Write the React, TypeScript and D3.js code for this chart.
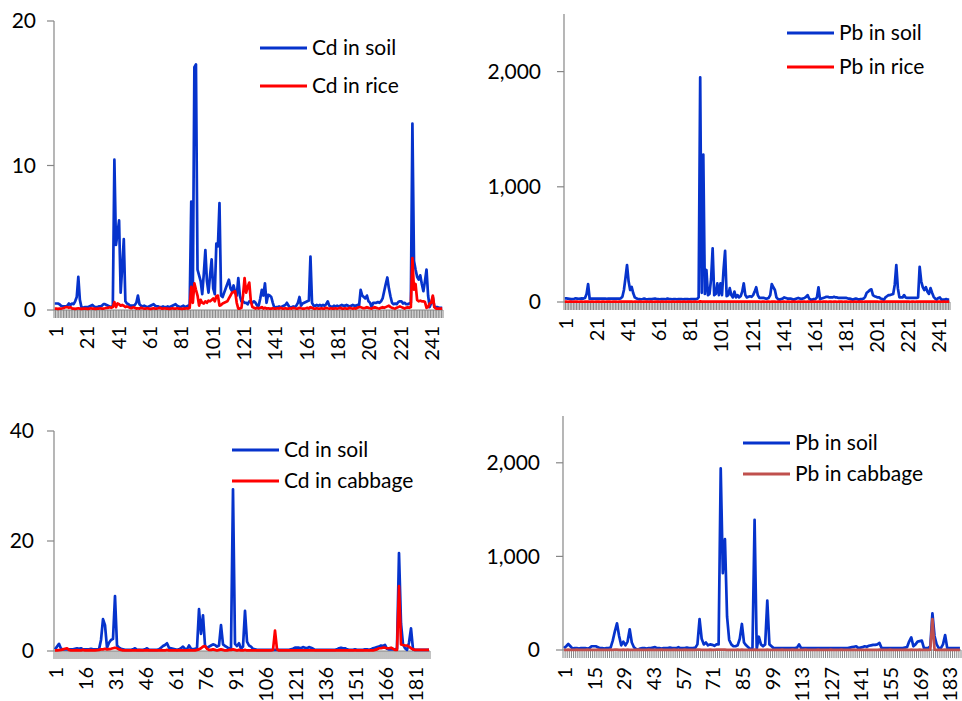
import React from "react";
import * as d3 from "d3";

const FONT = "Lato, 'Open Sans', sans-serif";
const BLUE = "#0633cc";
const RED = "#ff0000";
const DARK_RED = "#c0504d";
const AXIS = "#868686";

// Cd, rice fields (248 samples)
const cdSoilRice = [
  0.45,0.45,0.45,0.4,0.3,0.25,0.25,0.25,0.3,0.45,
  0.35,0.45,0.4,0.6,0.9,2.3,0.7,0.2,0.15,0.2,
  0.2,0.2,0.25,0.3,0.35,0.25,0.2,0.2,0.25,0.25,
  0.3,0.4,0.4,0.35,0.3,0.25,0.2,0.3,10.4,4.5,
  5.3,6.2,1.2,3.0,4.9,0.6,0.45,0.4,0.3,0.3,
  0.3,0.35,0.5,1.0,0.4,0.3,0.25,0.3,0.25,0.2,
  0.25,0.3,0.35,0.4,0.3,0.25,0.25,0.2,0.2,0.25,
  0.2,0.2,0.25,0.2,0.25,0.3,0.35,0.4,0.3,0.25,
  0.2,0.25,0.3,0.2,0.25,0.3,0.35,7.5,1.0,16.8,
  17.0,2.8,2.4,2.0,1.1,2.5,4.15,2.0,1.2,2.4,
  3.5,1.5,1.1,4.6,4.4,7.4,1.0,0.9,1.2,1.5,
  1.8,2.1,1.5,1.3,1.7,1.2,1.0,2.2,1.0,0.6,
  0.6,0.5,0.5,0.4,0.6,0.6,0.5,0.6,0.5,0.3,
  0.3,0.8,1.4,1.0,1.85,0.5,1.05,1.0,0.9,0.5,
  0.15,0.2,0.2,0.25,0.2,0.25,0.3,0.35,0.5,0.3,
  0.15,0.2,0.25,0.2,0.3,0.5,0.9,0.3,0.45,0.5,
  0.55,0.6,0.65,3.7,0.5,0.3,0.3,0.35,0.3,0.35,
  0.3,0.35,0.3,0.4,0.6,0.3,0.25,0.2,0.3,0.25,
  0.3,0.25,0.3,0.35,0.3,0.3,0.35,0.3,0.25,0.3,
  0.35,0.3,0.3,0.35,0.3,1.4,1.0,0.9,0.8,1.0,
  0.6,0.5,0.2,0.5,0.5,0.5,0.55,0.5,0.6,0.8,
  1.3,1.8,2.25,1.5,0.95,0.5,0.4,0.45,0.4,0.55,
  0.6,0.6,0.45,0.5,0.4,0.4,0.45,0.5,12.9,3.4,
  2.8,2.3,2.1,2.4,1.8,1.3,2.0,2.8,1.0,0.2,
  0.5,0.9,0.2,0.2,0.2,0.15,0.15,0.15,
];
const cdRice = [
  0.1,0.1,0.08,0.1,0.1,0.12,0.15,0.2,0.2,0.15,
  0.2,0.1,0.1,0.08,0.1,0.12,0.1,0.08,0.1,0.1,
  0.1,0.08,0.1,0.12,0.1,0.1,0.08,0.1,0.1,0.12,
  0.1,0.1,0.12,0.15,0.15,0.2,0.15,0.2,0.55,0.2,
  0.45,0.4,0.3,0.35,0.3,0.2,0.25,0.2,0.15,0.12,
  0.2,0.15,0.1,0.12,0.1,0.15,0.12,0.1,0.1,0.12,
  0.1,0.08,0.1,0.12,0.1,0.1,0.12,0.15,0.1,0.1,
  0.12,0.1,0.1,0.08,0.1,0.12,0.1,0.1,0.12,0.1,
  0.1,0.08,0.1,0.1,0.12,0.1,0.15,1.6,0.5,1.85,
  1.4,1.0,0.3,0.7,0.5,0.45,0.6,0.5,0.65,0.6,
  0.7,0.8,0.6,0.95,1.0,0.3,0.35,0.45,0.5,0.55,
  0.6,0.8,1.0,1.2,1.25,1.3,0.5,0.1,0.1,0.15,
  1.0,2.2,1.2,1.6,1.9,0.6,0.2,0.15,0.1,0.15,
  0.1,0.15,0.2,0.1,0.15,0.1,0.12,0.1,0.1,0.12,
  0.1,0.1,0.12,0.1,0.15,0.1,0.1,0.12,0.1,0.1,
  0.12,0.1,0.15,0.12,0.1,0.1,0.15,0.12,0.1,0.1,
  0.12,0.15,0.1,0.2,0.15,0.1,0.1,0.12,0.1,0.1,
  0.12,0.1,0.1,0.15,0.12,0.1,0.12,0.1,0.1,0.12,
  0.1,0.12,0.15,0.1,0.1,0.12,0.1,0.1,0.15,0.12,
  0.1,0.12,0.1,0.15,0.2,0.2,0.15,0.12,0.15,0.2,
  0.15,0.12,0.1,0.15,0.2,0.15,0.12,0.1,0.15,0.2,
  0.15,0.2,0.25,0.3,0.2,0.15,0.12,0.1,0.15,0.2,
  0.25,0.2,0.15,0.1,0.15,0.2,0.15,0.2,3.6,1.4,
  1.8,0.7,0.6,0.65,0.6,0.6,0.55,0.15,0.2,0.45,
  0.5,1.0,0.2,0.1,0.1,0.1,0.1,0.1,
];

// Pb, rice fields (248 samples)
const pbSoilRice = [
  32,32,30,28,25,25,28,32,30,28,
  30,32,30,35,70,156,26,30,30,30,
  30,30,30,30,30,30,30,28,30,30,
  30,30,30,30,30,30,32,45,104,210,
  321,180,104,130,75,40,32,25,25,24,
  26,30,26,24,25,26,25,28,30,26,
  25,24,25,26,25,24,30,26,25,24,
  25,25,24,25,25,25,24,25,25,25,
  24,25,25,25,25,26,40,1950,80,1280,
  70,278,60,70,200,466,60,70,162,60,
  162,60,278,445,50,60,120,60,40,90,
  40,60,40,50,90,162,60,40,45,50,
  45,60,90,128,60,35,35,35,35,30,
  30,35,60,156,128,104,40,25,20,25,
  30,40,35,30,30,30,25,20,25,30,
  35,30,25,30,35,45,60,30,20,20,
  25,25,40,128,25,30,35,40,45,45,
  40,40,40,45,40,40,35,35,35,35,
  35,35,30,30,25,20,25,30,25,20,
  25,25,30,45,80,90,104,110,60,50,
  45,40,40,30,25,20,40,50,60,60,
  65,70,150,321,120,40,40,40,60,40,
  35,35,35,35,35,35,35,40,306,180,
  130,104,128,90,70,120,80,45,30,20,
  35,40,20,20,20,25,20,20,
];
const pbRice = [
  3,3,2,3,3,2,3,3,3,2,
  3,3,2,3,3,3,2,3,3,2,
  3,3,3,2,3,3,2,3,3,3,
  2,3,3,3,2,3,3,3,4,3,
  4,3,3,3,2,3,3,2,3,3,
  2,3,3,3,2,3,3,2,3,3,
  3,2,3,3,2,3,3,3,2,3,
  3,2,3,3,3,2,3,3,2,3,
  3,3,2,3,3,2,3,5,3,4,
  3,4,3,3,3,4,3,3,3,3,
  4,3,3,4,3,3,3,3,3,3,
  3,3,3,3,3,4,3,3,3,3,
  3,3,3,3,3,3,2,3,3,2,
  3,3,2,3,3,3,2,3,3,2,
  3,3,2,3,3,2,3,3,3,2,
  3,3,2,3,3,2,3,3,2,3,
  3,3,2,3,3,2,3,3,3,2,
  3,3,2,3,3,2,3,3,3,2,
  3,3,2,3,3,2,3,3,2,3,
  3,3,2,3,3,3,3,3,3,3,
  3,3,2,3,3,2,3,3,3,3,
  3,3,3,4,3,3,3,3,3,3,
  3,3,2,3,3,2,3,3,4,3,
  3,3,3,3,3,3,3,3,3,2,
  3,3,2,3,3,2,3,3,
];

// Cd, vegetable fields (188 samples)
const cdSoilCabbage = [
  0.3,0.8,1.3,0.4,0.3,0.3,0.3,0.3,0.3,0.3,
  0.4,0.5,0.4,0.5,0.3,0.3,0.3,0.3,0.4,0.3,
  0.3,0.3,0.3,2.0,5.8,4.7,0.6,1.5,2.0,2.2,
  10.0,1.0,0.6,0.4,0.3,0.2,0.2,0.2,0.2,0.3,
  0.5,0.2,0.2,0.2,0.2,0.3,0.5,0.2,0.2,0.2,
  0.2,0.2,0.3,0.6,0.9,1.1,1.4,0.6,0.5,0.4,
  0.3,0.2,0.3,0.5,0.8,0.4,0.3,1.0,0.4,0.3,
  0.4,0.5,7.6,3.1,6.5,1.0,0.5,0.8,1.0,1.2,
  1.1,0.8,1.0,4.7,1.2,0.9,0.7,0.4,0.6,29.4,
  1.3,0.9,1.4,0.4,0.8,7.3,1.7,1.0,0.8,0.4,
  0.3,0.2,0.2,0.2,0.2,0.2,0.2,0.2,0.2,0.2,
  0.2,0.2,0.2,0.2,0.2,0.2,0.2,0.2,0.3,0.4,
  0.6,0.6,0.6,0.5,0.7,0.6,0.5,0.7,0.6,0.4,
  0.2,0.2,0.2,0.2,0.2,0.2,0.2,0.2,0.2,0.2,
  0.2,0.3,0.5,0.6,0.5,0.5,0.3,0.2,0.2,0.2,
  0.3,0.2,0.2,0.2,0.2,0.3,0.3,0.2,0.3,0.5,
  0.6,0.7,0.8,1.0,0.9,1.1,0.4,0.3,0.3,0.3,
  0.3,0.4,17.8,5.0,1.2,0.5,0.2,1.5,4.1,0.3,
  0.2,0.2,0.2,0.2,0.2,0.2,0.2,0.2,
];
const cdCabbage = [
  0.1,0.1,0.15,0.2,0.3,0.4,0.5,0.2,0.1,0.1,
  0.1,0.15,0.1,0.1,0.2,0.1,0.1,0.15,0.1,0.1,
  0.1,0.15,0.2,0.3,0.3,0.4,0.3,0.35,0.4,0.5,
  0.6,0.5,0.3,0.2,0.1,0.1,0.1,0.1,0.1,0.1,
  0.1,0.1,0.15,0.1,0.1,0.1,0.15,0.1,0.1,0.1,
  0.1,0.1,0.1,0.15,0.1,0.1,0.2,0.1,0.1,0.1,
  0.1,0.1,0.15,0.1,0.1,0.1,0.1,0.15,0.1,0.1,
  0.1,0.2,0.3,0.5,0.8,0.9,0.4,0.2,0.2,0.3,
  0.2,0.1,0.2,0.3,0.2,0.1,0.1,0.2,0.2,0.3,
  0.2,0.1,0.2,0.1,0.1,0.2,0.1,0.1,0.1,0.1,
  0.1,0.1,0.1,0.1,0.1,0.1,0.1,0.1,0.1,0.2,
  3.7,0.3,0.1,0.1,0.1,0.1,0.1,0.1,0.1,0.1,
  0.1,0.1,0.1,0.1,0.1,0.1,0.1,0.1,0.1,0.1,
  0.1,0.1,0.1,0.1,0.1,0.1,0.1,0.1,0.1,0.1,
  0.1,0.1,0.1,0.1,0.1,0.1,0.1,0.1,0.1,0.1,
  0.1,0.1,0.1,0.1,0.1,0.1,0.1,0.1,0.1,0.1,
  0.2,0.3,0.5,0.5,0.6,0.6,0.5,0.5,0.6,0.4,
  0.2,0.2,11.8,1.2,1.1,1.0,1.0,0.8,0.5,0.3,
  0.2,0.2,0.2,0.2,0.2,0.2,0.2,0.2,
];

// Pb, vegetable fields (188 samples)
const pbSoilCabbage = [
  20,40,64,40,15,20,20,15,20,20,
  20,15,20,40,40,40,30,20,20,15,
  20,20,25,100,200,285,150,50,89,50,
  90,221,80,30,10,5,15,20,20,15,
  20,20,25,30,20,20,15,20,20,20,
  25,20,20,20,30,20,20,20,25,20,
  20,20,25,60,331,120,60,80,50,60,
  55,45,60,60,1940,820,1184,356,107,60,
  40,40,50,120,278,80,50,30,10,20,
  1390,10,142,60,40,60,527,60,40,20,
  20,20,20,20,20,20,20,20,20,20,
  25,60,20,20,20,20,20,20,20,20,
  20,20,20,20,20,20,20,20,20,20,
  20,20,20,20,20,25,30,35,40,20,
  25,30,40,35,45,50,55,55,60,75,
  20,20,20,20,20,20,20,20,20,20,
  20,25,30,90,135,40,60,90,95,100,
  20,20,20,40,392,150,60,20,20,60,
  160,20,20,20,20,20,20,20,
];
const pbCabbage = [
  2,2,3,2,2,2,3,2,2,2,
  2,3,2,2,2,2,3,2,2,2,
  2,2,3,2,3,3,2,2,3,2,
  3,2,2,2,2,3,2,2,2,2,
  3,2,2,2,2,2,3,2,2,2,
  2,2,3,2,2,2,2,3,2,2,
  2,2,2,3,3,2,2,2,2,3,
  2,2,3,3,4,3,3,2,2,2,
  2,2,3,2,3,2,2,2,2,2,
  3,2,2,2,2,2,3,2,2,2,
  2,2,2,3,2,2,2,2,3,2,
  2,2,2,2,3,2,2,2,2,2,
  3,2,2,2,2,2,3,2,2,2,
  2,3,2,2,2,2,2,3,2,2,
  2,2,2,3,2,2,2,2,2,3,
  2,2,2,2,3,2,2,2,2,2,
  2,3,2,2,3,2,2,2,3,2,
  2,2,2,3,330,4,2,2,2,2,
  3,2,2,2,2,2,2,2,
];

type PanelProps = {
  soil: number[];
  crop: number[];
  soilName: string;
  cropName: string;
  cropColor: string;
  x0: number;
  x1: number;
  yTop: number;
  yBottom: number;
  yMax: number;
  yTicks: number[];
  fmt: (v: number) => string;
  tickLabelRight: number;
  step: number;
  labelEnd: number;
  legendX: number;
  legendY1: number;
  legendY2: number;
};

function Panel(p: PanelProps) {
  const n = p.soil.length;
  const idx = d3.range(1, n + 1);
  const x = d3.scaleBand<number>().domain(idx).range([p.x0, p.x1]);
  const cx = (i: number) => (x(i) as number) + x.bandwidth() / 2;
  const y = d3.scaleLinear().domain([0, p.yMax]).range([p.yBottom, p.yTop]);
  const line = d3
    .line<number>()
    .x((_, i) => cx(i + 1))
    .y((d) => y(d));
  const labels = idx.filter((i) => (i - 1) % p.step === 0);
  const bounds = idx.map((i) => x(i) as number).concat([p.x1]);

  return (
    <g>
      {/* category tick marks */}
      {bounds.map((b, k) => (
        <line key={k} x1={b} x2={b} y1={p.yBottom} y2={p.yBottom + 8} stroke={AXIS} strokeWidth={1} />
      ))}
      <line x1={p.x0} x2={p.x1} y1={p.yBottom} y2={p.yBottom} stroke={AXIS} strokeWidth={1.2} />
      <line x1={p.x0} x2={p.x0} y1={p.yTop} y2={p.yBottom} stroke={AXIS} strokeWidth={1.2} />
      {p.yTicks.map((t) => (
        <g key={t}>
          <line x1={p.x0 - 7} x2={p.x0} y1={y(t)} y2={y(t)} stroke={AXIS} strokeWidth={1.2} />
          <text x={p.tickLabelRight} y={y(t)} dy="0.35em" textAnchor="end" fontSize={21} fill="#000">
            {p.fmt(t)}
          </text>
        </g>
      ))}
      {labels.map((i) => (
        <text
          key={i}
          transform={`translate(${cx(i) + 1},${p.labelEnd}) rotate(-90)`}
          dy="0.35em"
          textAnchor="end"
          fontSize={20}
          fill="#000"
        >
          {i}
        </text>
      ))}
      <path d={line(p.soil) ?? ""} fill="none" stroke={BLUE} strokeWidth={2.7} strokeLinejoin="round" />
      <path d={line(p.crop) ?? ""} fill="none" stroke={p.cropColor} strokeWidth={2.7} strokeLinejoin="round" />
      {/* legend */}
      <line x1={p.legendX} x2={p.legendX + 47} y1={p.legendY1} y2={p.legendY1} stroke={BLUE} strokeWidth={3} />
      <text x={p.legendX + 52} y={p.legendY1} dy="0.35em" fontSize={21} fill="#000">
        {p.soilName}
      </text>
      <line x1={p.legendX} x2={p.legendX + 47} y1={p.legendY2} y2={p.legendY2} stroke={p.cropColor} strokeWidth={3} />
      <text x={p.legendX + 52} y={p.legendY2} dy="0.35em" fontSize={21} fill="#000">
        {p.cropName}
      </text>
    </g>
  );
}

export default function App() {
  const intFmt = d3.format("d");
  const commaFmt = d3.format(",");
  return (
    <svg
      width={962}
      height={701}
      style={{ position: "absolute", left: 0, top: 0, background: "#fff" }}
      fontFamily={FONT}
    >
      <rect width={962} height={701} fill="#fff" />
      <Panel
        soil={cdSoilRice} crop={cdRice} soilName="Cd in soil" cropName="Cd in rice" cropColor={RED}
        x0={54} x1={443} yTop={21} yBottom={310} yMax={20} yTicks={[0, 10, 20]} fmt={intFmt}
        tickLabelRight={36} step={20} labelEnd={326} legendX={260} legendY1={48} legendY2={86}
      />
      <Panel
        soil={pbSoilRice} crop={pbRice} soilName="Pb in soil" cropName="Pb in rice" cropColor={RED}
        x0={564} x1={950} yTop={14} yBottom={302} yMax={2500} yTicks={[0, 1000, 2000]} fmt={commaFmt}
        tickLabelRight={541} step={20} labelEnd={318} legendX={787} legendY1={33} legendY2={67}
      />
      <Panel
        soil={cdSoilCabbage} crop={cdCabbage} soilName="Cd in soil" cropName="Cd in cabbage" cropColor={RED}
        x0={54} x1={430} yTop={431} yBottom={651} yMax={40} yTicks={[0, 20, 40]} fmt={intFmt}
        tickLabelRight={34} step={15} labelEnd={667} legendX={232} legendY1={450} legendY2={481}
      />
      <Panel
        soil={pbSoilCabbage} crop={pbCabbage} soilName="Pb in soil" cropName="Pb in cabbage" cropColor={DARK_RED}
        x0={563} x1={961} yTop={416} yBottom={650} yMax={2500} yTicks={[0, 1000, 2000]} fmt={commaFmt}
        tickLabelRight={540} step={14} labelEnd={667} legendX={743} legendY1={443} legendY2={474}
      />
    </svg>
  );
}
